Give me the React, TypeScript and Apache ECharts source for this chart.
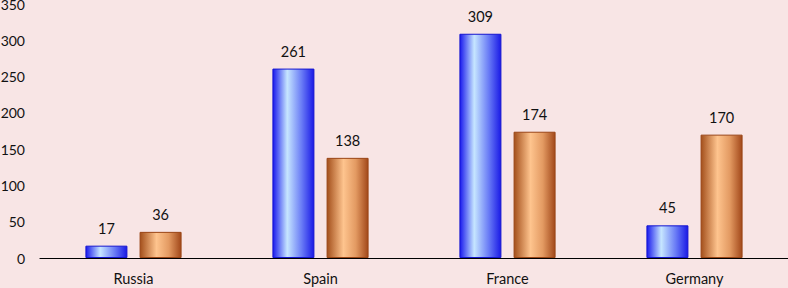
import React, { useEffect, useRef } from "react";
import * as echarts from "echarts";

const categories = ["Russia", "Spain", "France", "Germany"];
const seriesA = [17, 261, 309, 45];
const seriesB = [36, 138, 174, 170];
const yTicks = { min: 0, max: 350, interval: 50 };

const FONT = "Lato, 'Open Sans', sans-serif";

export default function App() {
  const ref = useRef<HTMLDivElement>(null);
  useEffect(() => {
    const chart = echarts.init(ref.current!, null, { renderer: "svg" });
    const blue = new echarts.graphic.LinearGradient(0, 0, 1, 0, [
      { offset: 0, color: "#1a1aee" },
      { offset: 0.35, color: "#c6e6ff" },
      { offset: 0.7, color: "#6a7cf6" },
      { offset: 1, color: "#1a1ae6" },
    ]);
    const orange = new echarts.graphic.LinearGradient(0, 0, 1, 0, [
      { offset: 0, color: "#a4501c" },
      { offset: 0.4, color: "#fec48e" },
      { offset: 0.7, color: "#e39a62" },
      { offset: 1, color: "#a2481a" },
    ]);
    const label = {
      show: true,
      position: "top" as const,
      distance: 10,
      color: "#111",
      fontSize: 14.5,
      fontFamily: FONT,
    };
    chart.setOption({
      animation: false,
      backgroundColor: "#f8e5e5",
      grid: {
        left: 40,
        right: 0,
        top: 4,
        bottom: 30,
        containLabel: false,
        outerBoundsMode: "none",
      },
      xAxis: {
        type: "category",
        data: categories,
        axisLine: { show: true, lineStyle: { color: "#000", width: 1.2 } },
        axisTick: { show: false },
        axisLabel: { color: "#111", fontSize: 14.5, fontFamily: FONT, margin: 13 },
      },
      yAxis: {
        type: "value",
        min: yTicks.min,
        max: yTicks.max,
        interval: yTicks.interval,
        axisLine: { show: false },
        axisTick: { show: false },
        splitLine: { show: false },
        axisLabel: { color: "#111", fontSize: 14, fontFamily: FONT, margin: 15 },
      },
      series: [
        {
          type: "bar",
          data: seriesA,
          barWidth: 42,
          barGap: "29%",
          itemStyle: { color: blue, borderColor: "#1515d0", borderWidth: 1 },
          label,
        },
        {
          type: "bar",
          data: seriesB,
          barWidth: 42,
          itemStyle: { color: orange, borderColor: "#9a4516", borderWidth: 1 },
          label,
        },
      ],
    });
    return () => chart.dispose();
  }, []);
  return (
    <div
      ref={ref}
      style={{ position: "fixed", left: 0, top: 0, width: 788, height: 288 }}
    />
  );
}
